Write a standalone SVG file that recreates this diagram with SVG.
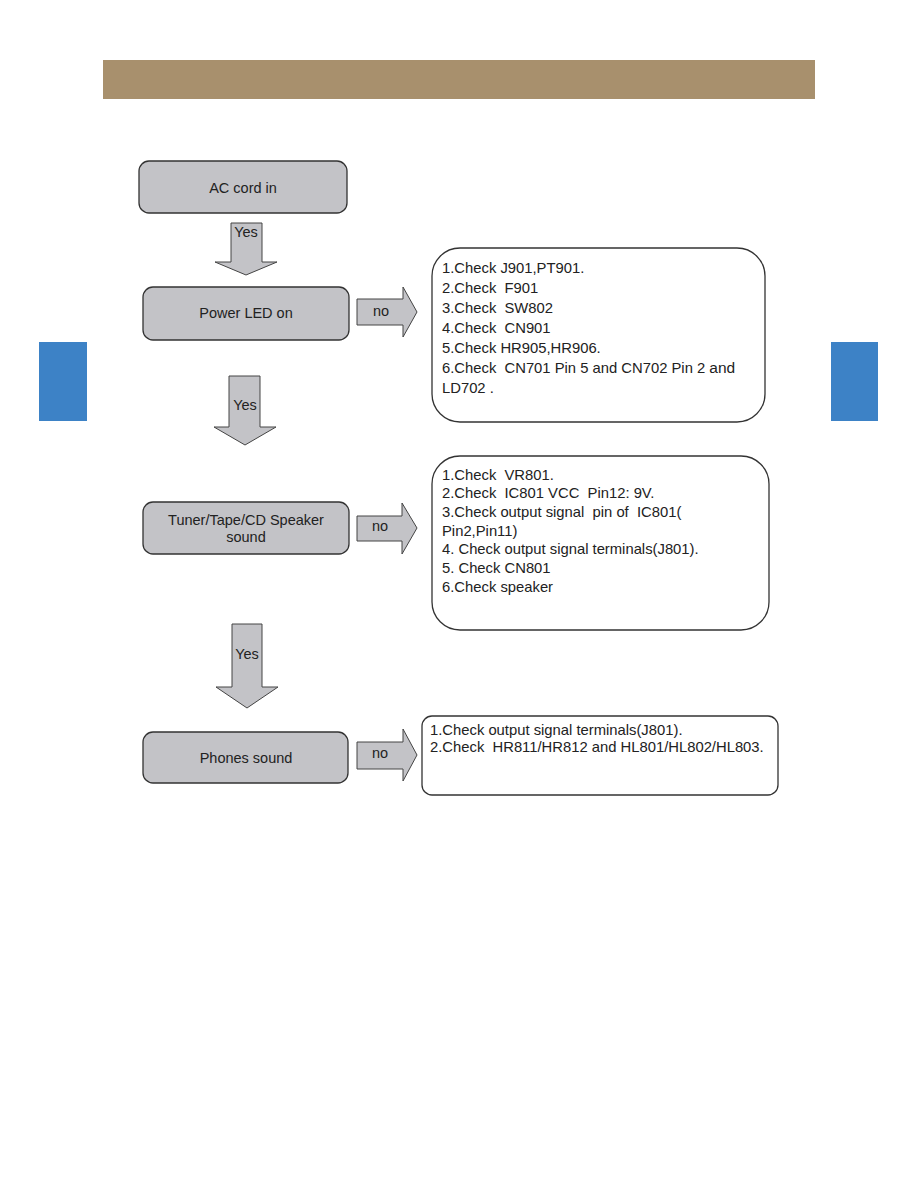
<svg xmlns="http://www.w3.org/2000/svg" width="918" height="1188" viewBox="0 0 918 1188">
<style>
.node{fill:#c3c3c7;stroke:#333;stroke-width:1.3}
.note{fill:#fff;stroke:#333;stroke-width:1.3}
.arr{fill:#c3c3c7;stroke:#444;stroke-width:1}
text{font-family:"Liberation Sans",Arial,sans-serif;font-size:14.5px;fill:#222;white-space:pre}
.t{font-size:14.8px}
.c{text-anchor:middle}
</style>
<rect width="918" height="1188" fill="#fff"/>
<rect x="103" y="60" width="712" height="39" fill="#a8906d"/>
<rect x="39" y="342" width="48" height="79" fill="#3d82c6"/>
<rect x="831" y="342" width="47" height="79" fill="#3d82c6"/>

<g id="connectors">
  <g id="yes1">
    <polygon class="arr" points="231,223 262,223 262,262 277,262 246,275 215,262 231,262"/>
    <text x="246" y="237" class="c">Yes</text>
  </g>
  <g id="no1">
    <polygon class="arr" points="357,299 403,299 403,287 417,312 403,337 403,325 357,325"/>
    <text x="381" y="316" class="c">no</text>
  </g>
  <g id="yes2">
    <polygon class="arr" points="229,376 260,376 260,427 276,427 245,445 214,427 229,427"/>
    <text x="245" y="410" class="c">Yes</text>
  </g>
  <g id="no2">
    <polygon class="arr" points="357,516 402,516 402,503 417,528 402,554 402,541 357,541"/>
    <text x="380" y="531" class="c">no</text>
  </g>
  <g id="yes3">
    <polygon class="arr" points="232,624 262,624 262,687 278,687 247,708 216,687 232,687"/>
    <text x="247" y="659" class="c">Yes</text>
  </g>
  <g id="no3">
    <polygon class="arr" points="357,742 403,742 403,729 417,755 403,781 403,769 357,769"/>
    <text x="380" y="758" class="c">no</text>
  </g>
</g>

<g id="ac-cord">
  <rect class="node" x="139" y="161" width="208" height="52" rx="10"/>
  <text x="243" y="193" class="c">AC cord in</text>
</g>
<g id="power-led">
  <rect class="node" x="143" y="287" width="206" height="53" rx="10"/>
  <text x="246" y="318" class="c">Power LED on</text>
</g>
<g id="speaker">
  <rect class="node" x="143" y="502" width="206" height="52" rx="10"/>
  <text x="246" y="525" class="c">Tuner/Tape/CD Speaker</text>
  <text x="246" y="542" class="c">sound</text>
</g>
<g id="phones">
  <rect class="node" x="143" y="732" width="205" height="51" rx="10"/>
  <text x="246" y="763" class="c">Phones sound</text>
</g>

<g id="note1">
  <rect class="note" x="432" y="248" width="333" height="174" rx="28"/>
  <text class="t" x="442" y="273">1.Check J901,PT901.</text>
  <text class="t" x="442" y="293">2.Check  F901</text>
  <text class="t" x="442" y="313">3.Check  SW802</text>
  <text class="t" x="442" y="333">4.Check  CN901</text>
  <text class="t" x="442" y="353">5.Check HR905,HR906.</text>
  <text class="t" x="442" y="373">6.Check  CN701 Pin 5 and CN702 Pin 2 <tspan style="font-size:15.5px">and</tspan></text>
  <text class="t" x="442" y="393">LD702 .</text>
</g>
<g id="note2">
  <rect class="note" x="432" y="456" width="337" height="174" rx="28"/>
  <text class="t" x="442" y="480">1.Check  VR801.</text>
  <text class="t" x="442" y="498">2.Check  IC801 VCC  Pin12: 9V.</text>
  <text class="t" x="442" y="517">3.Check output signal  pin of  IC801(</text>
  <text class="t" x="442" y="536">Pin2,Pin11)</text>
  <text class="t" x="442" y="554">4. Check output signal terminals(J801).</text>
  <text class="t" x="442" y="573">5. Check CN801</text>
  <text class="t" x="442" y="592">6.Check speaker</text>
</g>
<g id="note3">
  <rect class="note" x="422" y="716" width="356" height="79" rx="10"/>
  <text class="t" x="430" y="735">1.Check output signal terminals(J801).</text>
  <text class="t" x="430" y="752">2.Check  HR811/HR812 and HL801/HL802/HL803.</text>
</g>
</svg>
